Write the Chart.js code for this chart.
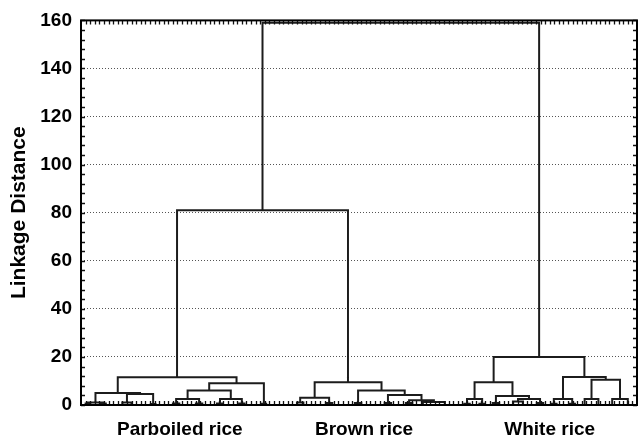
<!DOCTYPE html>
<html>
<head>
<meta charset="utf-8">
<script src="https://cdn.jsdelivr.net/npm/chart.js@4/dist/chart.umd.min.js"></script>
<style>
html, body { margin: 0; padding: 0; background: #fff; }
</style>
</head>
<body>
<canvas id="chart" width="638" height="439"></canvas>
<script>
// leaves are numbered 1..leafCount along the x axis
const leafCount = 120;
const categories = ["Parboiled rice", "Brown rice", "White rice"];
const categoryPos = [21.5, 61.6, 102];
const yTickValues = [0, 20, 40, 60, 80, 100, 120, 140, 160];

// each link: [x left child, height left child, x right child, height right child, merge height]
const parboiledLinks = [
    [1.0, 0, 2.0, 0, 0.6],
    [4.2, 0, 5.4, 0, 0.6],
    [1.5, 0.6, 4.8, 0.6, 1.0],
    [9.0, 0, 11.0, 0, 1.0],
    [15.2, 0, 16.2, 0, 0.4],
    [10.0, 1.0, 15.7, 0.4, 4.6],
    [3.15, 1.0, 12.85, 4.6, 5.0],
    [20.0, 0, 21.4, 0, 0.6],
    [25.0, 0, 26.4, 0, 0.6],
    [20.7, 0.6, 25.7, 0.6, 2.5],
    [29.6, 0, 30.9, 0, 0.6],
    [34.4, 0, 35.6, 0, 0.6],
    [30.25, 0.6, 35.0, 0.6, 2.5],
    [23.2, 2.5, 32.6, 2.5, 6.0],
    [39.3, 0, 40.3, 0, 0.5],
    [27.9, 6.0, 39.8, 0.5, 9.0],
    [8.0, 5.0, 33.85, 9.0, 11.5]
];

const brownLinks = [
    [47.0, 0, 48.4, 0, 1.0],
    [53.3, 0, 54.7, 0, 0.8],
    [47.7, 1.0, 54.0, 0.8, 3.0],
    [59.6, 0, 61.0, 0, 0.8],
    [66.1, 0, 67.5, 0, 0.8],
    [70.7, 0, 72.1, 0, 0.8],
    [74.4, 0, 79.2, 0, 1.3],
    [71.4, 0.8, 76.8, 1.3, 2.0],
    [66.8, 0.8, 74.1, 2.0, 4.2],
    [60.3, 0.8, 70.45, 4.2, 6.0],
    [50.85, 3.0, 65.4, 6.0, 9.5]
];

const whiteLinks = [
    [83.4, 0, 84.6, 0, 0.5],
    [86.7, 0, 87.9, 0, 0.5],
    [84.0, 0.5, 87.3, 0.5, 2.5],
    [89.6, 0, 91.0, 0, 0.8],
    [94.0, 0, 96.2, 0, 1.5],
    [99.2, 0, 100.6, 0, 0.8],
    [95.1, 1.5, 99.9, 0.8, 2.5],
    [90.3, 0.8, 97.5, 2.5, 3.7],
    [85.65, 2.5, 93.9, 3.7, 9.5],
    [102.3, 0, 103.5, 0, 0.5],
    [106.3, 0, 107.5, 0, 0.5],
    [102.9, 0.5, 106.9, 0.5, 2.5],
    [109.6, 0, 112.6, 0, 2.5],
    [115.6, 0, 119.0, 0, 2.5],
    [111.1, 2.5, 117.3, 2.5, 10.5],
    [104.9, 2.5, 114.2, 10.5, 11.6],
    [89.8, 9.5, 109.55, 11.6, 20.0]
];

const rootLinks = [
    [20.9, 11.5, 58.1, 9.5, 81.0],
    [39.5, 81.0, 99.7, 20.0, 159.0]
];

const allLinks = [...parboiledLinks, ...brownLinks, ...whiteLinks, ...rootLinks];

// one U shaped path per merge
const datasets = allLinks.map(l => ({
    data: [
        { x: l[0], y: l[1] },
        { x: l[0], y: l[4] },
        { x: l[2], y: l[4] },
        { x: l[2], y: l[3] }
    ],
    showLine: true,
    borderColor: "#1c1c1c",
    borderWidth: 2,
    pointRadius: 0,
    tension: 0,
    fill: false
}));

// frame plus the small inside ticks (leaves on x, every 4 units on y)
const frameTicks = {
    id: "frameTicks",
    afterDatasetsDraw(chart) {
        const { ctx, chartArea: a, scales: { x, y } } = chart;
        ctx.save();
        ctx.strokeStyle = "#111";
        ctx.lineWidth = 1.3;
        ctx.beginPath();
        for (let i = 1; i <= leafCount; i++) {
            const px = Math.round(x.getPixelForValue(i)) + 0.5;
            ctx.moveTo(px, a.top);
            ctx.lineTo(px, a.top + 4);
            ctx.moveTo(px, a.bottom);
            ctx.lineTo(px, a.bottom - 4);
        }
        for (let v = 0; v <= 160; v += 4) {
            const py = Math.round(y.getPixelForValue(v)) + 0.5;
            ctx.moveTo(a.left, py);
            ctx.lineTo(a.left + 4, py);
            ctx.moveTo(a.right, py);
            ctx.lineTo(a.right - 4, py);
        }
        ctx.stroke();
        ctx.strokeStyle = "#000";
        ctx.lineWidth = 2;
        ctx.strokeRect(a.left, a.top, a.right - a.left, a.bottom - a.top);
        ctx.restore();
    }
};

const font = { family: "'Liberation Sans', Arial, sans-serif", weight: "bold", size: 19 };

new Chart(document.getElementById("chart"), {
    type: "scatter",
    data: { datasets: datasets },
    options: {
        responsive: false,
        animation: false,
        layout: { padding: { top: 20, right: 1, left: 0, bottom: 0 } },
        plugins: {
            legend: { display: false },
            tooltip: { enabled: false }
        },
        scales: {
            x: {
                type: "linear",
                min: 0,
                max: leafCount + 1,
                afterBuildTicks: s => { s.ticks = categoryPos.map(v => ({ value: v })); },
                afterFit: s => { s.height = 34; },
                ticks: {
                    font: font,
                    color: "#000",
                    padding: 13,
                    maxRotation: 0,
                    autoSkip: false,
                    callback: (v, i) => categories[i]
                },
                grid: { display: false, drawTicks: false },
                border: { display: false }
            },
            y: {
                min: 0,
                max: 160,
                afterBuildTicks: s => { s.ticks = yTickValues.map(v => ({ value: v })); },
                afterFit: s => { s.width = 81; },
                ticks: {
                    font: font,
                    color: "#000",
                    padding: 9
                },
                grid: {
                    drawTicks: false,
                    lineWidth: 1,
                    color: c => (c.tick.value === 0 || c.tick.value === 160) ? "rgba(0,0,0,0)" : "#555"
                },
                border: { display: false, dash: [1, 2] },
                title: {
                    display: true,
                    text: "Linkage Distance",
                    font: { family: "'Liberation Sans', Arial, sans-serif", weight: "bold", size: 21 },
                    color: "#000",
                    padding: { top: 7, bottom: 0 }
                }
            }
        }
    },
    plugins: [frameTicks]
});
</script>
</body>
</html>
